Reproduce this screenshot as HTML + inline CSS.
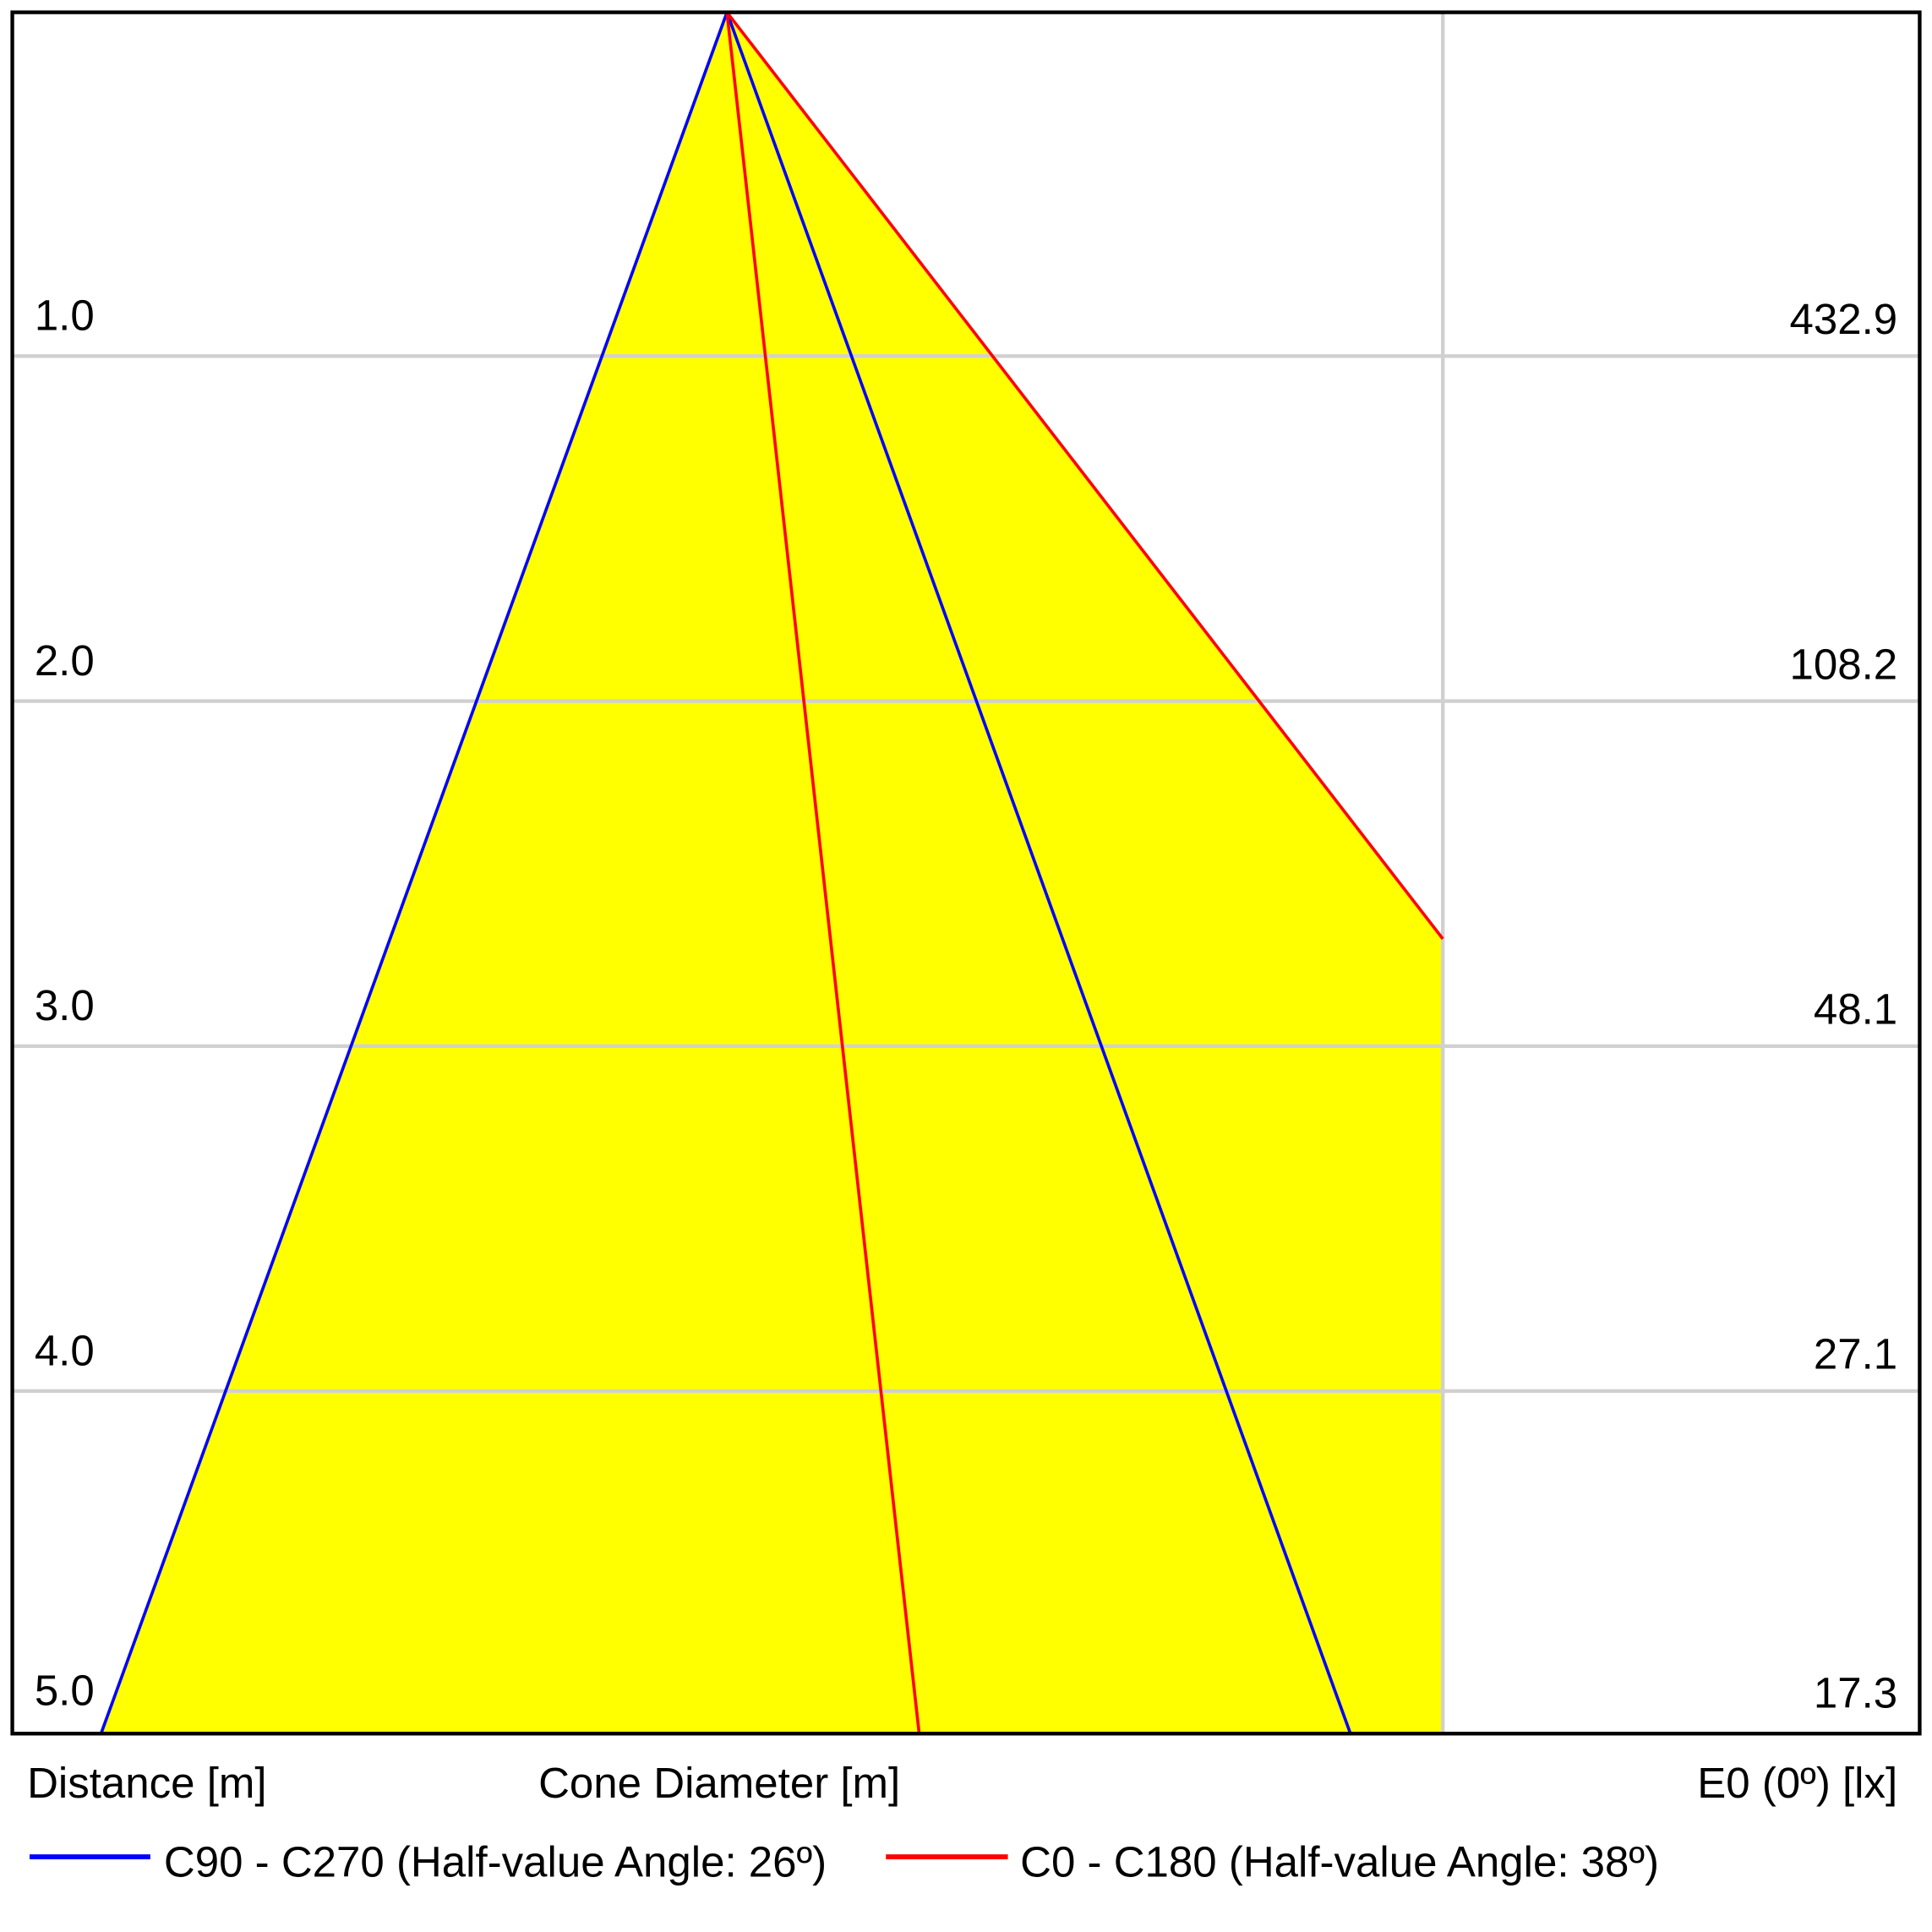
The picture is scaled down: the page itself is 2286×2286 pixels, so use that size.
<!DOCTYPE html>
<html><head><meta charset="utf-8"><style>
html,body{margin:0;padding:0;background:#fff;}
svg{display:block;}
text{font-family:"Liberation Sans",Arial,sans-serif;fill:#000;}
</style></head><body>
<svg width="2286" height="2286" viewBox="0 0 1568 1568" preserveAspectRatio="none" xmlns="http://www.w3.org/2000/svg">
<rect x="0" y="0" width="1568" height="1568" fill="#fff"/>
<polygon points="590,10 82,1407 1171,1407 1171,762" fill="#ffff00"/>
<g stroke="#d0d0d0" stroke-width="3">
<line x1="10" y1="289" x2="1558" y2="289"/>
<line x1="10" y1="569" x2="1558" y2="569"/>
<line x1="10" y1="849" x2="1558" y2="849"/>
<line x1="10" y1="1129" x2="1558" y2="1129"/>
<line x1="1171" y1="10" x2="1171" y2="1407"/>
</g>
<g fill="none" stroke-width="2.5">
<line x1="590" y1="10" x2="82" y2="1407" stroke="#0000ff"/>
<line x1="590" y1="10" x2="1096" y2="1407" stroke="#0000ff"/>
<line x1="590" y1="10" x2="746" y2="1407" stroke="#ff0000"/>
<line x1="590" y1="10" x2="1171" y2="762" stroke="#ff0000"/>
</g>
<rect x="10" y="10" width="1548" height="1397" fill="none" stroke="#000" stroke-width="3"/>
<g font-size="35">
<text x="28" y="268">1.0</text>
<text x="28" y="548">2.0</text>
<text x="28" y="828">3.0</text>
<text x="28" y="1108">4.0</text>
<text x="28" y="1384">5.0</text>
<g text-anchor="end">
<text x="1540" y="271">432.9</text>
<text x="1540" y="551">108.2</text>
<text x="1540" y="831">48.1</text>
<text x="1540" y="1111">27.1</text>
<text x="1540" y="1386">17.3</text>
</g>
<text x="22" y="1459">Distance [m]</text>
<text x="437" y="1459">Cone Diameter [m]</text>
<text x="1540" y="1459" text-anchor="end">E0 (0º) [lx]</text>
<text x="133" y="1523">C90 - C270 (Half-value Angle: 26º)</text>
<text x="828" y="1523">C0 - C180 (Half-value Angle: 38º)</text>
</g>
<line x1="24" y1="1507" x2="122" y2="1507" stroke="#0000ff" stroke-width="4"/>
<line x1="719" y1="1507" x2="818" y2="1507" stroke="#ff0000" stroke-width="4"/>
</svg>
</body></html>
